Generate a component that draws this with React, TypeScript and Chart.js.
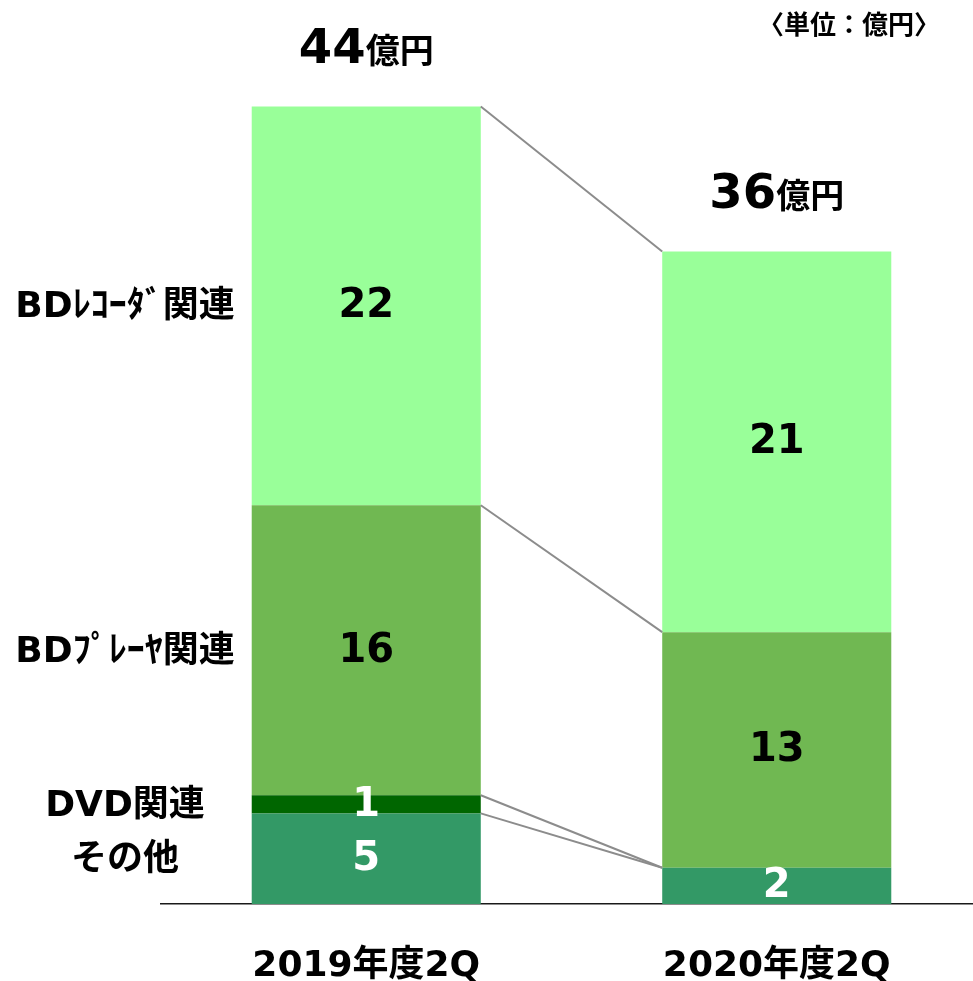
import React, { useEffect, useRef } from "react";
import { Chart, registerables } from "chart.js";

Chart.register(...registerables);

const categories = ["2019年度2Q", "2020年度2Q"];
const seriesNames = ["その他", "DVD関連", "BDﾌﾟﾚｰﾔ関連", "BDﾚｺｰﾀﾞ関連"];
const otherValues = [5, 2];
const dvdValues = [1, 0];
const bdPlayerValues = [16, 13];
const bdRecorderValues = [22, 21];
const totals = [44, 36];
const totalUnit = "億円";
const unitLabel = "〈単位：億円〉";

const seriesColors = ["#339966", "#006600", "#70B852", "#99FF99"];
const valueTextColors = ["#ffffff", "#ffffff", "#000000", "#000000"];
const FONT = '"DejaVu Sans", "Noto Sans CJK JP", sans-serif';
const CJK_FONT = '"Noto Sans CJK JP", sans-serif';

const overlay = {
  id: "overlay",
  afterDatasetsDraw(chart: any) {
    const ctx = chart.ctx as CanvasRenderingContext2D;
    const area = chart.chartArea;
    ctx.save();

    // connector lines between bar segment tops
    ctx.strokeStyle = "#8c8c8c";
    ctx.lineWidth = 2;
    chart.data.datasets.forEach((_ds: any, i: number) => {
      const meta = chart.getDatasetMeta(i);
      const a = meta.data[0].getProps(["x", "y", "width"], true);
      const b = meta.data[1].getProps(["x", "y", "width"], true);
      ctx.beginPath();
      ctx.moveTo(a.x + a.width / 2, a.y);
      ctx.lineTo(b.x - b.width / 2, b.y);
      ctx.stroke();
    });

    // values inside segments
    ctx.textAlign = "center";
    ctx.textBaseline = "middle";
    ctx.font = `bold 40px ${FONT}`;
    chart.data.datasets.forEach((ds: any, i: number) => {
      const meta = chart.getDatasetMeta(i);
      meta.data.forEach((el: any, j: number) => {
        const v = ds.data[j];
        if (!v) return;
        const p = el.getProps(["x", "y", "base"], true);
        ctx.fillStyle = valueTextColors[i];
        ctx.fillText(String(v), p.x, (p.y + p.base) / 2 + 1);
      });
    });

    // series names on the left
    ctx.fillStyle = "#000000";
    ctx.font = `bold 36px ${FONT}`;
    seriesNames.forEach((name, i) => {
      const el = chart.getDatasetMeta(i).data[0];
      const p = el.getProps(["y", "base"], true);
      ctx.fillText(name, area.left - 36, (p.y + p.base) / 2 + 2);
    });

    // totals above bars
    ctx.textBaseline = "alphabetic";
    ctx.textAlign = "left";
    const top = chart.getDatasetMeta(chart.data.datasets.length - 1);
    totals.forEach((t, j) => {
      const p = top.data[j].getProps(["x", "y"], true);
      const numFont = `bold 48px ${FONT}`;
      const unitFont = `bold 34px ${CJK_FONT}`;
      ctx.font = numFont;
      const w1 = ctx.measureText(String(t)).width;
      ctx.font = unitFont;
      const w2 = ctx.measureText(totalUnit).width;
      const x0 = p.x - (w1 + w2) / 2;
      const yb = p.y - 44;
      ctx.font = numFont;
      ctx.fillText(String(t), x0, yb);
      ctx.font = unitFont;
      ctx.fillText(totalUnit, x0 + w1, yb);
    });

    // unit label
    ctx.textAlign = "right";
    ctx.textBaseline = "middle";
    ctx.font = `bold 26px ${CJK_FONT}`;
    ctx.fillText(unitLabel, 940, 24);

    ctx.restore();
  },
};

export default function App() {
  const ref = useRef<HTMLCanvasElement | null>(null);
  useEffect(() => {
    if (!ref.current) return;
    const chart = new Chart(ref.current, {
      type: "bar",
      data: {
        labels: categories,
        datasets: [
          { label: seriesNames[0], data: otherValues, backgroundColor: seriesColors[0] },
          { label: seriesNames[1], data: dvdValues, backgroundColor: seriesColors[1] },
          { label: seriesNames[2], data: bdPlayerValues, backgroundColor: seriesColors[2] },
          { label: seriesNames[3], data: bdRecorderValues, backgroundColor: seriesColors[3] },
        ],
      },
      options: {
        responsive: false,
        animation: false,
        layout: { padding: { left: 161, right: 8, top: 34, bottom: 0 } },
        datasets: { bar: { barPercentage: 1, categoryPercentage: 0.558 } },
        plugins: { legend: { display: false }, tooltip: { enabled: false } },
        scales: {
          x: {
            stacked: true,
            grid: { display: false, drawTicks: false },
            border: { display: true, color: "#1a1a1a", width: 1.5 },
            ticks: {
              color: "#000000",
              font: { family: FONT, size: 36, weight: "bold", lineHeight: 1 },
              padding: 45,
              maxRotation: 0,
              autoSkip: false,
            },
          },
          y: { stacked: true, display: false, min: 0, max: 48 },
        },
      },
      plugins: [overlay],
    } as any);
    return () => chart.destroy();
  }, []);
  return (
    <div style={{ position: "fixed", left: 0, top: 0, width: 973, height: 981, overflow: "hidden", background: "#ffffff" }}>
      <canvas ref={ref} width={990} height={1030} style={{ display: "block", width: 990, height: 1030 }} />
    </div>
  );
}
